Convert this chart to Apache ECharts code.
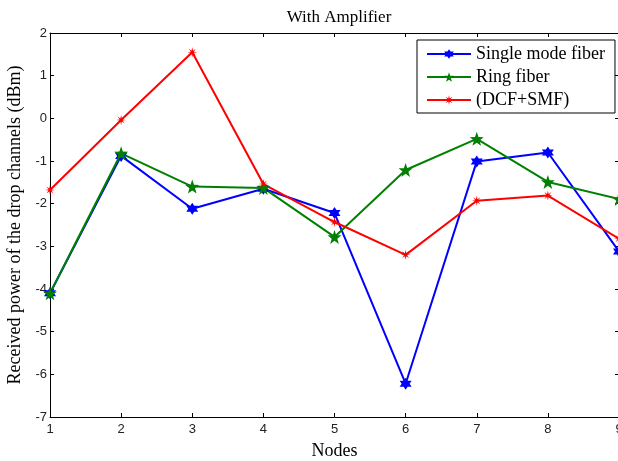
<!DOCTYPE html>
<html>
<head>
<meta charset="utf-8">
<script src="https://cdn.jsdelivr.net/npm/echarts@6/dist/echarts.min.js"></script>
<style>
  html, body { margin: 0; padding: 0; background: #fff; }
  #chart { width: 618px; height: 461px; }
</style>
</head>
<body>
<div id="chart"></div>
<script>
// values
var nodes = ['1', '2', '3', '4', '5', '6', '7', '8', '9'];
var singleMode = [-4.1, -0.88, -2.12, -1.65, -2.22, -6.22, -1.01, -0.8, -3.12];
var ringFiber = [-4.1, -0.82, -1.6, -1.63, -2.78, -1.21, -0.48, -1.49, -1.89];
var dcfSmf = [-1.68, -0.04, 1.55, -1.54, -2.43, -3.2, -1.93, -1.81, -2.82];

var hexagram = 'path://M0,-10L2.887,-5L8.66,-5L5.774,0L8.66,5L2.887,5L0,10L-2.887,5L-8.66,5L-5.774,0L-8.66,-5L-2.887,-5Z';
var pentagram = 'path://M0,-10L2.35,-3.24L9.51,-3.09L3.8,1.24L5.88,8.09L0,4L-5.88,8.09L-3.8,1.24L-9.51,-3.09L-2.35,-3.24Z';
var asterisk = 'path://M0,-10L1.5,-3L7,-7L3,-1L10,0L3,1L7,7L1.5,3L0,10L-1.5,3L-7,7L-3,1L-10,0L-3,-1L-7,-7L-1.5,-3Z';

var serif = 'Liberation Serif, Times New Roman, serif';
var sans = 'Liberation Sans, Arial, sans-serif';

var chart = echarts.init(document.getElementById('chart'));

function line (name, color, symbol, size, data) {
  return {
    name: name,
    type: 'line',
    data: data,
    symbol: symbol,
    symbolSize: size,
    lineStyle: { color: color, width: 2 },
    itemStyle: { color: color },
    animation: false
  };
}

chart.setOption({
  backgroundColor: '#fff',
  title: {
    text: 'With Amplifier',
    left: 334,
    top: 4,
    textAlign: 'center',
    textStyle: {
      fontFamily: serif,
      fontSize: 17,
      fontWeight: 'normal',
      color: '#000'
    }
  },
  grid: {
    left: 50,
    right: -1,
    top: 33,
    bottom: 44,
    outerBoundsMode: 'none'
  },
  legend: {
    orient: 'vertical',
    left: 417,
    top: 40,
    width: 197,
    padding: [5, 10, 4, 9],
    itemGap: 5,
    itemWidth: 44,
    itemHeight: 12,
    backgroundColor: '#fff',
    borderColor: '#000',
    borderWidth: 1,
    borderRadius: 0,
    textStyle: {
      fontFamily: serif,
      fontSize: 18,
      color: '#000'
    },
    data: ['Single mode fiber', 'Ring fiber', '(DCF+SMF)']
  },
  xAxis: [
    {
      type: 'category',
      data: nodes,
      boundaryGap: false,
      name: 'Nodes',
      nameLocation: 'middle',
      nameGap: 25,
      nameTextStyle: { fontFamily: serif, fontSize: 18, color: '#000' },
      axisLine: { onZero: false, lineStyle: { color: '#000', width: 1 } },
      axisTick: { inside: true, length: 4, lineStyle: { color: '#000' } },
      axisLabel: { fontFamily: sans, fontSize: 13, color: '#222', margin: 6 },
      splitLine: { show: false }
    },
    {
      type: 'category',
      data: nodes,
      boundaryGap: false,
      position: 'top',
      axisLine: { onZero: false, lineStyle: { color: '#000', width: 1 } },
      axisTick: { inside: true, length: 4, lineStyle: { color: '#000' } },
      axisLabel: { show: false },
      splitLine: { show: false }
    }
  ],
  yAxis: [
    {
      type: 'value',
      min: -7,
      max: 2,
      interval: 1,
      name: 'Received power of the drop channels (dBm)',
      nameLocation: 'middle',
      nameGap: 24,
      nameTextStyle: { fontFamily: serif, fontSize: 18, color: '#000' },
      axisLine: { show: true, onZero: false, lineStyle: { color: '#000', width: 1 } },
      axisTick: { show: true, inside: true, length: 4, lineStyle: { color: '#000' } },
      axisLabel: { fontFamily: sans, fontSize: 13, color: '#222', margin: 3 },
      splitLine: { show: false }
    },
    {
      type: 'value',
      min: -7,
      max: 2,
      interval: 1,
      position: 'right',
      axisLine: { show: true, onZero: false, lineStyle: { color: '#000', width: 1 } },
      axisTick: { show: true, inside: true, length: 4, lineStyle: { color: '#000' } },
      axisLabel: { show: false },
      splitLine: { show: false }
    }
  ],
  series: [
    line('Single mode fiber', '#0000ff', hexagram, 12, singleMode),
    line('Ring fiber', '#008000', pentagram, 14, ringFiber),
    line('(DCF+SMF)', '#ff0000', asterisk, 10, dcfSmf)
  ]
});
</script>
</body>
</html>
